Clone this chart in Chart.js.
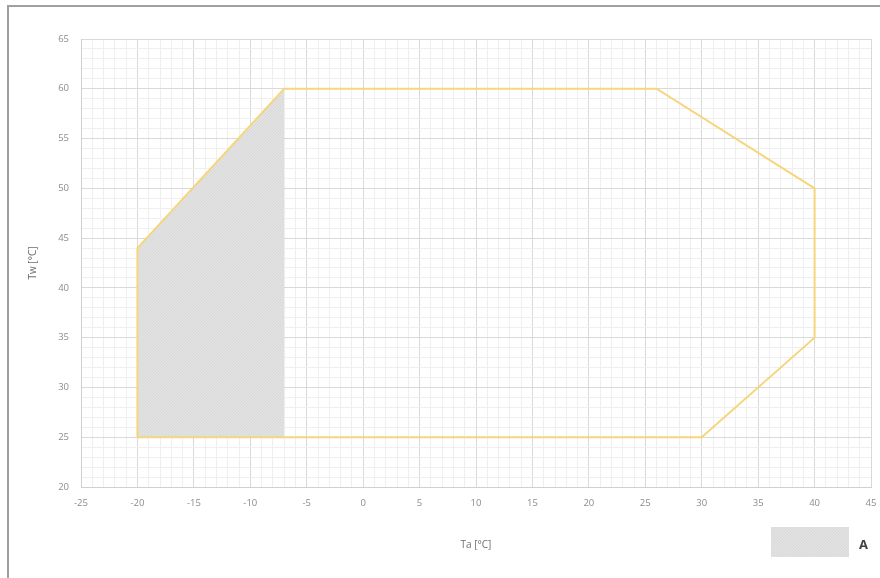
<!DOCTYPE html>
<html>
<head>
<meta charset="utf-8">
<script src="https://cdn.jsdelivr.net/npm/chart.js@4.4.1/dist/chart.umd.min.js"></script>
<style>
  html, body { margin: 0; padding: 0; background: #fff; }
  #wrap { position: relative; width: 880px; height: 578px; overflow: hidden; }
  #frame { position: absolute; left: 7px; top: 5px; width: 900px; height: 600px;
           border-left: 2px solid #a0a0a0; border-top: 2px solid #a0a0a0; box-sizing: border-box; }
  canvas { position: absolute; left: 0; top: 0; }
</style>
</head>
<body>
<div id="wrap">
  <div id="frame"></div>
  <canvas id="chart" width="880" height="578"></canvas>
</div>
<script>
  // Operating envelope (closed polygon), Ta / Tw in °C
  const envelopeTa = [-20, -20, -7, 26, 40, 40, 30, -20];
  const envelopeTw = [25, 44, 60, 60, 50, 35, 25, 25];

  // Area "A": upper edge, filled down to Tw = 25
  const areaTa = [-20, -7];
  const areaTw = [44, 60];
  const areaBase = 25;

  const xMin = -25, xMax = 45;
  const yMin = 20, yMax = 65;
  const majorStep = 5;

  const legendLabel = 'A';
  const xTitle = 'Ta [°C]';
  const yTitle = 'Tw [°C]';

  // ---------------------------------------------------------------
  // Hatch pattern for area A
  // ---------------------------------------------------------------
  function makeHatch() {
    const c = document.createElement('canvas');
    c.width = 3; c.height = 3;
    const g = c.getContext('2d');
    g.fillStyle = '#dcdcdc';
    g.fillRect(0, 0, 3, 3);
    g.fillStyle = '#e4e4e4';
    g.fillRect(0, 2, 1, 1);
    g.fillRect(1, 1, 1, 1);
    g.fillRect(2, 0, 1, 1);
    return g.createPattern(c, 'repeat');
  }
  const hatch = makeHatch();

  function toPoints(xs, ys) {
    return xs.map(function (x, i) { return { x: x, y: ys[i] }; });
  }

  const gridColor = function (ctx) {
    return (ctx.tick && ctx.tick.value % majorStep === 0) ? '#d9d9d9' : '#efefef';
  };
  const tickLabel = function (v) {
    return v % majorStep === 0 ? v : '';
  };

  // Legend drawn in the bottom-right corner
  const legendPlugin = {
    id: 'legendA',
    afterDraw(chart) {
      const ctx = chart.ctx;
      const ds = chart.data.datasets[0];
      ctx.save();
      ctx.fillStyle = ds.backgroundColor;
      ctx.fillRect(771, 527, 78, 30);
      ctx.fillStyle = '#404040';
      ctx.font = 'bold 13px "Open Sans", sans-serif';
      ctx.textBaseline = 'middle';
      ctx.fillText(ds.label, 859, 545);
      ctx.restore();
    },
  };

  new Chart(document.getElementById('chart'), {
    type: 'scatter',
    data: {
      datasets: [{
        label: legendLabel,
        data: toPoints(areaTa, areaTw),
        showLine: true,
        borderWidth: 0,
        borderColor: 'rgba(0,0,0,0)',
        backgroundColor: hatch,
        fill: { value: areaBase },
        pointRadius: 0,
        order: 2,
      }, {
        label: 'envelope',
        data: toPoints(envelopeTa, envelopeTw),
        showLine: true,
        borderColor: '#f6d67c',
        borderWidth: 2,
        fill: false,
        pointRadius: 0,
        tension: 0,
        order: 1,
      }],
    },
    options: {
      responsive: false,
      animation: false,
      layout: { padding: { left: 0, top: 39, right: 9, bottom: 0 } },
      plugins: {
        legend: { display: false },
        tooltip: { enabled: false },
      },
      scales: {
        x: {
          type: 'linear',
          min: xMin,
          max: xMax,
          ticks: {
            stepSize: 1,
            autoSkip: false,
            maxRotation: 0,
            callback: tickLabel,
            color: '#8c8c8c',
            font: { family: '"Open Sans", sans-serif', size: 9.5 },
            padding: 11,
          },
          grid: { color: gridColor, lineWidth: 1, drawTicks: false },
          border: { color: '#d0d0d0' },
          title: {
            display: true,
            text: xTitle,
            color: '#6e6e6e',
            font: { family: '"Open Sans", sans-serif', size: 10 },
            padding: { top: 4, bottom: 27 },
          },
          afterFit(scale) {
            scale.height = 578 - 487;
            scale.paddingLeft = 0;
            scale.paddingRight = 0;
          },
        },
        y: {
          type: 'linear',
          min: yMin,
          max: yMax,
          ticks: {
            stepSize: 1,
            autoSkip: false,
            callback: tickLabel,
            color: '#8c8c8c',
            font: { family: '"Open Sans", sans-serif', size: 9.5 },
            padding: 12,
          },
          grid: { color: gridColor, lineWidth: 1, drawTicks: false },
          border: { color: '#d0d0d0' },
          title: {
            display: true,
            text: yTitle,
            color: '#6e6e6e',
            font: { family: '"Open Sans", sans-serif', size: 10 },
            padding: { top: 27, bottom: 0 },
          },
          afterFit(scale) {
            scale.width = 81;
            scale.paddingTop = 0;
            scale.paddingBottom = 0;
          },
        },
      },
    },
    plugins: [legendPlugin],
  });
</script>
</body>
</html>
